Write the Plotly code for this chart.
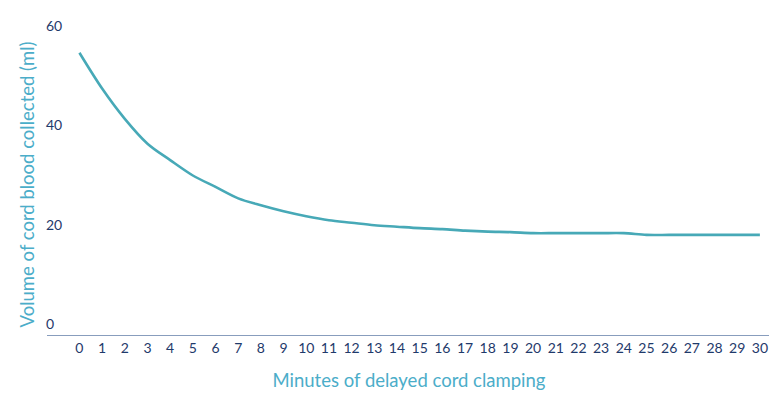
import plotly.graph_objects as go

minutes = list(range(0, 31))
volume_ml = [54.6, 47.4, 41.3, 36.3, 33.0, 29.9, 27.6, 25.3, 23.9, 22.7,
             21.7, 20.9, 20.4, 19.9, 19.6, 19.3, 19.1, 18.8, 18.6, 18.5,
             18.3, 18.3, 18.3, 18.3, 18.3, 17.95, 17.95, 17.95, 17.95, 17.95, 17.95]
y_ticks = [0, 20, 40, 60]

x_title = "Minutes of delayed cord clamping"
y_title = "Volume of cord blood collected (ml)"

FONT = "Lato, sans-serif"
NAVY = "#1f3a6b"
TEAL = "#47a9b7"
TITLE_BLUE = "#4badc9"

fig = go.Figure()
fig.add_trace(go.Scatter(
    x=minutes, y=volume_ml, mode="lines",
    line=dict(color=TEAL, width=2.6, shape="spline", smoothing=0.9),
    hoverinfo="x+y", showlegend=False,
))

# page body has an 8px default margin, so the figure is 8px smaller
fig.update_layout(
    width=769, height=390,
    margin=dict(l=39, r=6, t=8, b=63),
    paper_bgcolor="white", plot_bgcolor="white",
    font=dict(family=FONT, color=NAVY, size=14),
    xaxis=dict(
        range=[-1.43, 30.49], tickmode="array", tickvals=minutes,
        ticktext=[str(m) for m in minutes],
        showgrid=False, zeroline=False, automargin=False,
        showline=True, linecolor="#889dbd", linewidth=1.2,
        ticks="", tickfont=dict(size=14, color=NAVY),
        title=dict(text=x_title, font=dict(size=18.5, color=TITLE_BLUE), standoff=19),
    ),
    yaxis=dict(
        range=[-2.2, 62], tickmode="array", tickvals=y_ticks,
        ticktext=[str(v) for v in y_ticks],
        showgrid=False, zeroline=False, showline=False, automargin=False,
        ticks="", ticklabelposition="inside", ticklabelstandoff=-4,
        tickfont=dict(size=14, color=NAVY),
    ),
    annotations=[dict(
        text=y_title, xref="paper", yref="paper", x=0, y=0.472,
        xanchor="center", yanchor="middle", xshift=-20, textangle=-90,
        showarrow=False, font=dict(size=18.5, color=TITLE_BLUE, family=FONT),
    )],
)

fig.write_html("out.html")
